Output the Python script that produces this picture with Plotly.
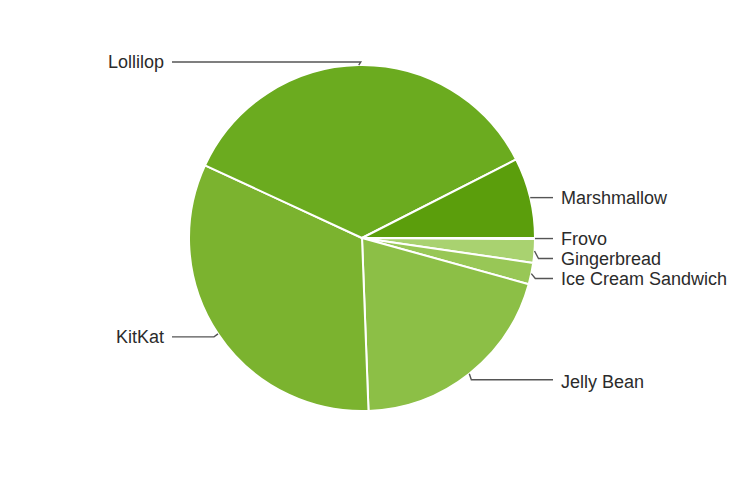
import math
import plotly.graph_objects as go

# Data (Android platform distribution)
labels = ["Frovo", "Gingerbread", "Ice Cream Sandwich", "Jelly Bean", "KitKat", "Lollilop", "Marshmallow"]
values = [0.1, 2.2, 2.0, 20.1, 32.5, 35.6, 7.5]
colors = ["#b7dd86", "#a9d270", "#98c756", "#8cbf46", "#7bb32f", "#6bab1f", "#5b9e0c"]

W, H = 752, 490
OFF = 8  # page body margin
CX, CY, R = 362 - OFF, 238 - OFF, 173
LABEL_DY = {"Lollilop": -3, "KitKat": 3, "Jelly Bean": 6}

fig = go.Figure(go.Pie(
    labels=labels, values=values, sort=False, direction="clockwise", rotation=90,
    marker=dict(colors=colors, line=dict(color="white", width=2)),
    textinfo="none", hoverinfo="label+percent", showlegend=False,
    domain=dict(x=[(CX - R) / W, (CX + R) / W], y=[1 - (CY + R) / H, 1 - (CY - R) / H]),
))

total = sum(values)
cum = 0.0
items = []
for lab, v in zip(labels, values):
    th = 2 * math.pi * (cum + v / 2) / total
    cum += v
    ax = CX + R * math.cos(th)
    ay = CY + R * math.sin(th)
    side = 1 if math.cos(th) >= 0 else -1
    items.append([lab, ax, ay, side, ay])

# simple collision avoidance per side
for s in (1, -1):
    prev = -1e9
    for it in sorted([it for it in items if it[3] == s], key=lambda t: t[2]):
        it[4] = max(it[2], prev + 20)
        prev = it[4]

def px(x):
    return x / W

def py(y):
    return 1 - y / H

shapes = []
annotations = []
for lab, ax, ay, side, ly in items:
    ly = ly + LABEL_DY.get(lab, 0)
    if lab == "Lollilop":
        ex, ey = ax + 2, ly
    elif lab == "Jelly Bean":
        ex, ey = ax + 2, ly
    else:
        ex, ey = ax + side * 4, ly
    endx = (553 if side == 1 else 172) - OFF
    if abs(ly - ay) < 1:
        ex = ax
    path = f"M {px(ax)} {py(ay)} L {px(ex)} {py(ey)} L {px(endx)} {py(ly)}"
    shapes.append(dict(type="path", xref="paper", yref="paper", path=path,
                       line=dict(color="#555555", width=1.4)))
    annotations.append(dict(
        x=px(endx + side * 6), y=py(ly + (2 if lab == "Jelly Bean" else 0)), xref="paper", yref="paper",
        text=lab, showarrow=False, xanchor="left" if side == 1 else "right",
        yanchor="middle", font=dict(family="Liberation Sans, Arial, sans-serif", size=18, color="#2b2b2b"),
    ))

fig.update_layout(
    width=W, height=H, margin=dict(l=0, r=0, t=0, b=0),
    paper_bgcolor="white", plot_bgcolor="white",
    shapes=shapes, annotations=annotations,
)
fig.write_html("out.html")
